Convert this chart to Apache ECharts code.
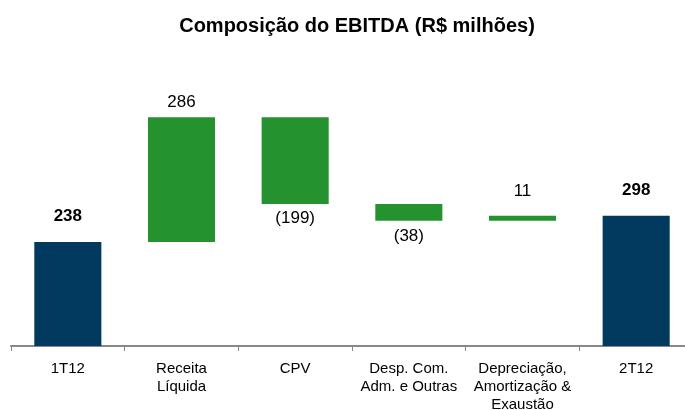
<!DOCTYPE html>
<html><head><meta charset="utf-8">
<script src="https://cdn.jsdelivr.net/npm/echarts@6/dist/echarts.min.js"></script>
<style>html,body{margin:0;padding:0;background:#fff}#c{width:685px;height:410px}</style>
</head><body><div id="c"></div>
<script>
var categories = ['1T12', 'Receita\nLíquida', 'CPV', 'Desp. Com.\nAdm. e Outras', 'Depreciação,\nAmortização &\nExaustão', '2T12'];
var values = [238, 286, -199, -38, 11, 298];
var isTotal = [true, false, false, false, false, true];

var navy = '#013a5e', green = '#23922f';
var labelGap = [17, 6, 6, 7, 16, 17];
var base = [], size = [];
var running = 0;
for (var i = 0; i < values.length; i++) {
  if (isTotal[i]) { base.push(0); size.push(values[i]); running = values[i]; }
  else {
    var nxt = running + values[i];
    base.push(Math.min(running, nxt));
    size.push(Math.abs(values[i]));
    running = nxt;
  }
}
var barData = size.map(function (v, i) {
  var neg = values[i] < 0;
  return {
    value: v,
    itemStyle: { color: isTotal[i] ? navy : green },
    label: {
      show: true,
      position: neg ? 'bottom' : 'top',
      distance: labelGap[i],
      fontWeight: isTotal[i] ? 'bold' : 'normal',
      formatter: neg ? '(' + Math.abs(values[i]) + ')' : String(values[i])
    }
  };
});
var chart = echarts.init(document.getElementById('c'));
chart.setOption({
  animation: false,
  title: { text: 'Composição do EBITDA (R$ milhões)', left: 352, textAlign: 'center', top: 11,
    textStyle: { fontFamily: 'Liberation Sans', fontSize: 20, fontWeight: 'bold', color: '#000' } },
  grid: { left: 11, right: -8, top: 84, bottom: 64, containLabel: false, outerBoundsMode: 'none' },
  xAxis: { type: 'category', data: categories,
    axisLine: { lineStyle: { color: '#888', width: 2 } },
    axisTick: { show: true, length: 5, lineStyle: { color: '#888' } },
    axisLabel: { interval: 0, color: '#000', fontFamily: 'Liberation Sans', fontSize: 15, lineHeight: 18, margin: 14 } },
  yAxis: { type: 'value', min: 0, max: 600, show: false, splitLine: { show: false } },
  series: [
    { type: 'bar', stack: 'w', data: base, itemStyle: { color: 'transparent' }, barWidth: '59%', silent: true },
    { type: 'bar', stack: 'w', data: barData, barWidth: '59%',
      label: { color: '#000', fontFamily: 'Liberation Sans', fontSize: 17 } }
  ]
});
</script></body></html>
